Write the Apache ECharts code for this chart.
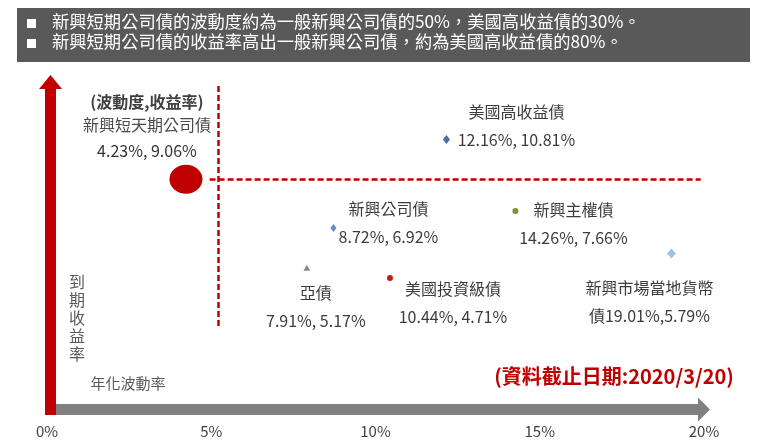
<!DOCTYPE html>
<html>
<head>
<meta charset="utf-8">
<script src="https://cdn.jsdelivr.net/npm/echarts@6/dist/echarts.min.js"></script>
<style>
  html, body { margin: 0; padding: 0; background: #ffffff; }
  #chart { width: 760px; height: 441px; }
</style>
</head>
<body>
<div id="chart"></div>
<script>
// ---- Data ----
const names = ['新興短天期公司債', '美國高收益債', '新興公司債', '新興主權債', '新興市場當地貨幣債', '亞債', '美國投資級債'];
const volatility = [4.23, 12.16, 8.72, 14.26, 19.01, 7.91, 10.44];   // 年化波動率 (%)
const yieldRate  = [9.06, 10.81, 6.92, 7.66, 5.79, 5.17, 4.71];      // 到期收益率 (%)
const xTickStep = 5;
const xRange = [0, 20];
const yRange = [0, 14];
const hRefLineX = [4.95, 19.9];     // horizontal dashed reference (at 新興短天期公司債 yield)
const vRefLineX = 5.2;              // vertical dashed reference
const vRefLineY = [2.6, 13.3];
const headerLines = [
  '新興短期公司債的波動度約為一般新興公司債的50%，美國高收益債的30%。',
  '新興短期公司債的收益率高出一般新興公司債，約為美國高收益債的80%。'
];
const noteText = '(資料截止日期:2020/3/20)';
const xAxisTitle = '年化波動率';
const yAxisTitle = '到期收益率';
const pairTitle = '(波動度,收益率)';

// ---- Styles (per point) ----
const FONT = '"Noto Sans CJK TC", "Noto Sans CJK SC", sans-serif';
const styles = [
  { symbol: 'circle',   size: [33, 29], color: '#c00000', offset: [-39, -51.5] },
  { symbol: 'diamond',  size: [7, 9],   color: '#4a6aa8', offset: [70, -14] },
  { symbol: 'diamond',  size: [6, 8],   color: '#5b8fc9', offset: [55, -5] },
  { symbol: 'circle',   size: 6,        color: '#77933c', offset: [58, 13] },
  { symbol: 'diamond',  size: [9, 10],  color: '#a7c0e2', offset: [-22, 48.5] },
  { symbol: 'triangle', size: [7, 6],   color: '#8c8c8c', offset: [9, 39.5] },
  { symbol: 'circle',   size: 6,        color: '#c0200f', offset: [63, 24.5] }
];

function pct(v) { return v.toFixed(2) + '%'; }

const series = names.map(function (n, i) {
  const st = styles[i];
  let formatter, rich;
  if (i === 0) {
    formatter = '{h|' + pairTitle + '}\n{n|' + n + '}\n{v|' + pct(volatility[i]) + ', ' + pct(yieldRate[i]) + '}';
    rich = {
      h: { fontSize: 16, fontWeight: 'bold', color: '#404040', lineHeight: 22, fontFamily: FONT },
      n: { fontSize: 16, color: '#4a4a4a', lineHeight: 24, fontFamily: FONT },
      v: { fontSize: 16, color: '#333333', lineHeight: 28, fontFamily: FONT }
    };
  } else if (i === 4) {
    formatter = n.slice(0, n.length - 1) + '\n' + n.slice(-1) + pct(volatility[i]) + ',' + pct(yieldRate[i]);
  } else {
    formatter = n + '\n' + pct(volatility[i]) + ', ' + pct(yieldRate[i]);
  }
  const s = {
    type: 'scatter',
    name: n,
    data: [[volatility[i], yieldRate[i]]],
    symbol: st.symbol,
    symbolSize: st.size,
    itemStyle: { color: st.color, opacity: 1 },
    z: i === 0 ? 4 : 5,
    label: {
      show: true,
      position: 'inside',
      offset: st.offset,
      align: 'center',
      verticalAlign: 'middle',
      formatter: formatter,
      color: '#3c3c3c',
      fontSize: 16,
      lineHeight: 28,
      fontFamily: FONT
    },
    emphasis: { disabled: true }
  };
  if (rich) s.label.rich = rich;
  if (i === 0) {
    s.markLine = {
      silent: true,
      symbol: 'none',
      animation: false,
      label: { show: false },
      lineStyle: { color: '#c00000', type: [6, 3], width: 2.5 },
      data: [
        [{ coord: [hRefLineX[0], yieldRate[0]] }, { coord: [hRefLineX[1], yieldRate[0]] }],
        [{ coord: [vRefLineX, vRefLineY[0]] }, { coord: [vRefLineX, vRefLineY[1]] }]
      ]
    };
  }
  return s;
});

const chart = echarts.init(document.getElementById('chart'), null, { renderer: 'canvas' });

chart.setOption({
  animation: false,
  backgroundColor: '#ffffff',
  grid: { left: 47, right: 56, top: 67.2, bottom: 56, containLabel: false },
  xAxis: {
    type: 'value',
    min: xRange[0],
    max: xRange[1],
    interval: xTickStep,
    offset: 24.5,
    splitLine: { show: false },
    axisTick: { show: false },
    axisLine: {
      show: true,
      onZero: false,
      symbol: ['none', 'triangle'],
      symbolSize: [24, 12],
      lineStyle: { color: '#808080', width: 11, cap: 'butt' }
    },
    axisLabel: {
      formatter: '{value}%',
      color: '#404040',
      fontSize: 15,
      margin: 14,
      fontFamily: FONT
    }
  },
  yAxis: {
    type: 'value',
    min: yRange[0],
    max: yRange[1],
    show: false,
    splitLine: { show: false }
  },
  series: series,
  graphic: [
    // header band
    { type: 'rect', left: 17, top: 8, shape: { width: 733, height: 54 }, style: { fill: '#595959' }, z: 1 },
    { type: 'rect', left: 27, top: 19, shape: { width: 9, height: 9 }, style: { fill: '#ffffff' }, z: 2 },
    { type: 'rect', left: 27, top: 39, shape: { width: 9, height: 9 }, style: { fill: '#ffffff' }, z: 2 },
    { type: 'text', left: 52, top: 13, z: 2,
      style: { text: headerLines[0], fill: '#ffffff', fontSize: 17.3, fontFamily: FONT } },
    { type: 'text', left: 52, top: 33, z: 2,
      style: { text: headerLines[1], fill: '#ffffff', fontSize: 17.3, fontFamily: FONT } },
    // red vertical arrow (y axis)
    { type: 'rect', left: 45, top: 86, shape: { width: 11, height: 329 }, style: { fill: '#c00000' }, z: 10 },
    { type: 'polygon', shape: { points: [[39, 89], [50.5, 75], [62, 89]] }, style: { fill: '#c00000' }, z: 10 },
    // axis titles
    { type: 'text', x: 77, y: 318, z: 10,
      style: { text: yAxisTitle.split('').join('\n'), fill: '#595959', fontSize: 16, lineHeight: 18,
               align: 'center', verticalAlign: 'middle', fontFamily: FONT } },
    { type: 'text', x: 128, y: 383, z: 10,
      style: { text: xAxisTitle, fill: '#595959', fontSize: 15,
               align: 'center', verticalAlign: 'middle', fontFamily: FONT } },
    // data-date note
    { type: 'text', x: 614, y: 376, z: 10,
      style: { text: noteText, fill: '#c00000', fontSize: 20, fontWeight: 'bold',
               align: 'center', verticalAlign: 'middle', fontFamily: FONT } }
  ]
});
</script>
</body>
</html>
